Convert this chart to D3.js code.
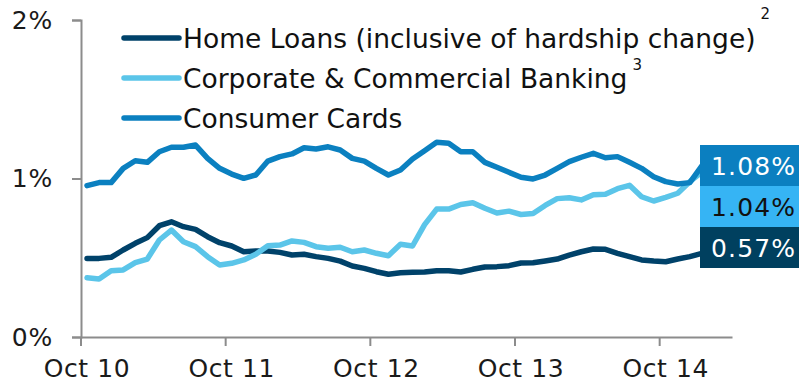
<!DOCTYPE html>
<html>
<head>
<meta charset="utf-8">
<script src="https://cdn.jsdelivr.net/npm/d3@7"></script>
<style>
  html, body { margin: 0; padding: 0; background: #ffffff; }
  svg { display: block; font-family: "DejaVu Sans", Verdana, sans-serif; }
</style>
</head>
<body>
<svg id="chart" width="799" height="387"></svg>
<script>
// ---- data ----
const months = [];
(function () {
  const names = ["Jan","Feb","Mar","Apr","May","Jun","Jul","Aug","Sep","Oct","Nov","Dec"];
  let m = 9, yr = 10;
  for (let i = 0; i < 54; i++) {
    months.push(names[m] + " " + String(yr).padStart(2, "0"));
    m++; if (m === 12) { m = 0; yr++; }
  }
})();
const tickLabels = ["Oct 10", "Oct 11", "Oct 12", "Oct 13", "Oct 14"];
const yTicks = [0, 1, 2];

const homeLoans = [0.496,0.496,0.503,0.549,0.591,0.627,0.702,0.727,0.696,0.679,0.633,0.595,
  0.574,0.538,0.543,0.543,0.534,0.517,0.522,0.507,0.496,0.479,0.448,0.433,0.412,0.396,
  0.406,0.408,0.41,0.418,0.418,0.41,0.427,0.442,0.444,0.45,0.467,0.469,0.48,
  0.492,0.517,0.538,0.555,0.553,0.528,0.507,0.486,0.479,0.475,0.492,0.507,0.528];
const corporate = [0.374,0.366,0.418,0.423,0.469,0.492,0.612,0.675,0.601,0.57,0.507,0.454,
  0.465,0.486,0.522,0.576,0.58,0.606,0.597,0.57,0.56,0.566,0.538,0.549,0.528,0.513,
  0.585,0.574,0.709,0.807,0.807,0.836,0.847,0.812,0.782,0.794,0.773,0.779,0.83,
  0.873,0.879,0.865,0.898,0.901,0.936,0.957,0.885,0.858,0.881,0.907,0.98,1.04];
const cards = [0.955,0.974,0.974,1.064,1.112,1.102,1.169,1.197,1.197,1.211,1.127,1.064,
  1.028,1.001,1.022,1.11,1.138,1.155,1.194,1.186,1.2,1.18,1.127,1.11,1.064,1.022,
  1.054,1.123,1.175,1.228,1.222,1.169,1.169,1.102,1.071,1.039,1.008,0.997,1.022,
  1.064,1.106,1.134,1.159,1.131,1.138,1.102,1.064,1.011,0.98,0.965,0.974,1.08];

const seriesNames = ["Home Loans (inclusive of hardship change)", "Corporate & Commercial Banking", "Consumer Cards"];
const seriesSup = ["2", "3", ""];
const lastLabels = ["1.08%", "1.04%", "0.57%"];

// ---- styles ----
const colors = { hl: "#00426a", cb: "#5bc5e9", cc: "#0b80c0" };
const boxColors = ["#0b7fc0", "#36b4f4", "#00405f"];
const boxText = ["#ffffff", "#111111", "#ffffff"];

const svg = d3.select("#chart");
const mLeft = 81, mRight = 732, mTop = 20, mBottom = 337;

const x = d3.scaleBand().domain(months).range([mLeft, mRight]).paddingInner(0).paddingOuter(0);
const y = d3.scaleLinear().domain([0, 2]).range([mBottom, mTop]);
const cx = d => x(d) + x.bandwidth() / 2;

// y axis
const yAxis = d3.axisLeft(y).tickValues(yTicks).tickFormat(d => d + "%").tickSize(9).tickPadding(19);
const gy = svg.append("g").attr("transform", `translate(${mLeft},0)`).call(yAxis);
gy.select(".domain").attr("stroke", "#8c8c8c").attr("stroke-width", 2);
gy.selectAll(".tick line").attr("stroke", "#8c8c8c").attr("stroke-width", 2);
gy.selectAll(".tick text").attr("font-size", 25).attr("fill", "#1a1a1a")
  .attr("font-family", "DejaVu Sans").attr("letter-spacing", 0.8);

// x axis
const octs = months.filter(m => m.startsWith("Oct"));
const xAxis = d3.axisBottom(x).tickValues(octs).tickSize(9).tickPadding(13).tickSizeOuter(0);
const gx = svg.append("g").attr("transform", `translate(0,${mBottom})`).call(xAxis);
gx.select(".domain").attr("stroke", "#8c8c8c").attr("stroke-width", 2);
gx.selectAll(".tick line").attr("stroke", "#8c8c8c").attr("stroke-width", 2)
  .attr("x1", -x.bandwidth() / 2).attr("x2", -x.bandwidth() / 2);
gx.selectAll(".tick text").text((d, i) => tickLabels[i]).attr("font-size", 25)
  .attr("fill", "#1a1a1a").attr("font-family", "DejaVu Sans").attr("letter-spacing", 0.6);

// lines
const line = d3.line().x((d, i) => cx(months[i])).y(d => y(d)).curve(d3.curveLinear);
const series = [
  { vals: homeLoans, color: colors.hl },
  { vals: corporate, color: colors.cb },
  { vals: cards, color: colors.cc }
];
series.forEach(s => {
  svg.append("path").datum(s.vals).attr("d", line).attr("fill", "none")
    .attr("stroke", s.color).attr("stroke-width", 5.5).attr("stroke-linejoin", "round")
    .attr("stroke-linecap", "round");
});

// end label boxes
const boxTop = 145, boxH = 41;
lastLabels.forEach((t, i) => {
  svg.append("rect").attr("x", 700).attr("y", boxTop + i * boxH).attr("width", 99).attr("height", boxH)
    .attr("fill", boxColors[i]);
  svg.append("text").attr("x", 796).attr("y", boxTop + i * boxH + boxH / 2 + 1)
    .attr("text-anchor", "end").attr("dominant-baseline", "central")
    .attr("font-size", 25).attr("letter-spacing", 1.1).attr("fill", boxText[i]).text(t);
});

// legend
const legY = [38, 78, 118];
const legColors = [colors.hl, colors.cb, colors.cc];
seriesNames.forEach((n, i) => {
  svg.append("line").attr("x1", 124).attr("x2", 179).attr("y1", legY[i]).attr("y2", legY[i])
    .attr("stroke", legColors[i]).attr("stroke-width", 5.5).attr("stroke-linecap", "round");
  const t = svg.append("text").attr("x", 183).attr("y", legY[i]).attr("dominant-baseline", "central")
    .attr("font-size", 26.5).attr("fill", "#111").text(n);
  if (seriesSup[i]) {
    const w = t.node().getComputedTextLength();
    svg.append("text").attr("x", 183 + w + 5).attr("y", legY[i] - (i === 0 ? 24 : 13))
      .attr("dominant-baseline", "central").attr("font-size", 15).attr("fill", "#111").text(seriesSup[i]);
  }
});
</script>
</body>
</html>
